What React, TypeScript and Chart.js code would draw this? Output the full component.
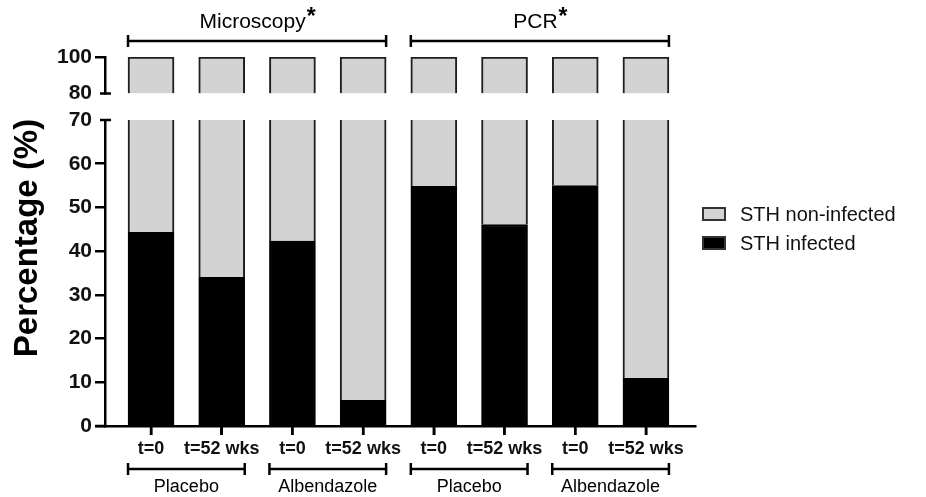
import React, { useEffect, useRef } from 'react';
import { Chart, registerables } from 'chart.js';

Chart.register(...registerables);

// ---------- data ----------
const categories = ['t=0', 't=52 wks', 't=0', 't=52 wks', 't=0', 't=52 wks', 't=0', 't=52 wks'];
const infected = [44.3, 34.0, 42.3, 5.9, 54.8, 46.1, 55.0, 10.9];
const nonInfected = [55.7, 66.0, 57.7, 94.1, 45.2, 53.9, 45.0, 89.1];
const seriesNames = ['STH non-infected', 'STH infected'];
const lowerTicks = [0, 10, 20, 30, 40, 50, 60, 70];
const upperTicks = [80, 100];
const treatmentGroups = [
  { label: 'Placebo', from: 0, to: 1 },
  { label: 'Albendazole', from: 2, to: 3 },
  { label: 'Placebo', from: 4, to: 5 },
  { label: 'Albendazole', from: 6, to: 7 },
];
const methodGroups = [
  { label: 'Microscopy', from: 0, to: 3 },
  { label: 'PCR', from: 4, to: 7 },
];
const yTitle = 'Percentage (%)';

const LOWER_MIN = 0;
const LOWER_MAX = 70;
const UPPER_MIN = 80;
const UPPER_MAX = 100;

// ---------- style ----------
const FONT = '"Liberation Sans", Arial, sans-serif';
const GRAY = '#d3d3d3';
const EDGE = '#1e1e1e';
const BAR_W = 46;
const AXIS_W = 2.5;

const brokenAxisPlugin = {
  id: 'brokenAxisDecor',
  afterDraw(chart: any) {
    const ctx = chart.ctx as CanvasRenderingContext2D;
    const x = chart.scales.x;
    const yLow = chart.scales.yLow;
    const yHigh = chart.scales.yHigh;
    const area = chart.chartArea;
    ctx.save();
    ctx.strokeStyle = '#000';
    ctx.fillStyle = '#000';
    ctx.lineWidth = AXIS_W;

    // axis-break caps
    const ax = area.left;
    [yLow.getPixelForValue(LOWER_MAX), yHigh.getPixelForValue(UPPER_MIN)].forEach((py) => {
      ctx.beginPath();
      ctx.moveTo(ax - 5, py);
      ctx.lineTo(ax + 6, py);
      ctx.stroke();
    });

    // x-axis extension to the left and category tick marks
    const axisY = yLow.getPixelForValue(LOWER_MIN);
    ctx.beginPath();
    ctx.moveTo(ax - 10, axisY);
    ctx.lineTo(ax, axisY);
    ctx.stroke();
    categories.forEach((_, i) => {
      const px = x.getPixelForValue(i);
      ctx.beginPath();
      ctx.moveTo(px, axisY);
      ctx.lineTo(px, axisY + 9);
      ctx.stroke();
    });

    const barLeft = (i: number) => x.getPixelForValue(i) - BAR_W / 2;
    const barRight = (i: number) => x.getPixelForValue(i) + BAR_W / 2;

    const bracket = (x1: number, x2: number, y: number, cap: number) => {
      ctx.beginPath();
      ctx.moveTo(x1, y);
      ctx.lineTo(x2, y);
      ctx.moveTo(x1, y - cap);
      ctx.lineTo(x1, y + cap);
      ctx.moveTo(x2, y - cap);
      ctx.lineTo(x2, y + cap);
      ctx.stroke();
    };

    // top method brackets
    methodGroups.forEach((g) => {
      const x1 = barLeft(g.from);
      const x2 = barRight(g.to);
      bracket(x1, x2, 41, 6);
      ctx.font = `21px ${FONT}`;
      const w1 = ctx.measureText(g.label).width;
      ctx.font = `bold 23px ${FONT}`;
      const w2 = ctx.measureText('*').width;
      const cx = (x1 + x2) / 2;
      const start = cx - (w1 + w2) / 2;
      ctx.textBaseline = 'alphabetic';
      ctx.textAlign = 'left';
      ctx.font = `21px ${FONT}`;
      ctx.fillText(g.label, start, 28);
      ctx.font = `bold 23px ${FONT}`;
      ctx.fillText('*', start + w1 + 1, 24);
    });

    // bottom treatment brackets
    treatmentGroups.forEach((g) => {
      const x1 = barLeft(g.from);
      const x2 = barRight(g.to);
      bracket(x1, x2, 469, 6);
      ctx.font = `18px ${FONT}`;
      ctx.textAlign = 'center';
      ctx.textBaseline = 'middle';
      ctx.fillText(g.label, (x1 + x2) / 2, 487);
    });

    // y title
    ctx.save();
    ctx.translate(28, 238);
    ctx.rotate(-Math.PI / 2);
    ctx.font = `bold 33px ${FONT}`;
    ctx.textAlign = 'center';
    ctx.textBaseline = 'middle';
    ctx.fillText(yTitle, 0, 0);
    ctx.restore();

    // legend
    const legendFills = [GRAY, '#000'];
    seriesNames.forEach((name, i) => {
      const cy = 214 + i * 29;
      ctx.fillStyle = legendFills[i];
      ctx.fillRect(703, cy - 6, 22, 12);
      ctx.lineWidth = 2;
      ctx.strokeStyle = '#333';
      ctx.strokeRect(703, cy - 6, 22, 12);
      ctx.fillStyle = '#111';
      ctx.font = `20px ${FONT}`;
      ctx.textAlign = 'left';
      ctx.textBaseline = 'middle';
      ctx.fillText(name, 740, cy + 1);
    });

    ctx.restore();
  },
};

export default function App() {
  const canvasRef = useRef<HTMLCanvasElement | null>(null);

  useEffect(() => {
    if (!canvasRef.current) return;

    const lowerInfected = categories.map((_, i) => ({
      x: i,
      y: [LOWER_MIN, Math.min(infected[i], LOWER_MAX)],
    }));
    const lowerNon = categories.map((_, i) => ({
      x: i,
      y: [Math.min(infected[i], LOWER_MAX), Math.min(infected[i] + nonInfected[i], LOWER_MAX)],
    }));
    const upperNon = categories.map((_, i) => ({
      x: i,
      y: [Math.max(infected[i], UPPER_MIN), Math.min(infected[i] + nonInfected[i], UPPER_MAX)],
    }));

    const common = {
      grouped: false,
      barThickness: BAR_W,
      borderSkipped: false as const,
      borderColor: EDGE,
    };

    const tickFont = { family: FONT, size: 21, weight: 'bold' as const };

    const yCommon = (ticks: number[], hideCap: number) => ({
      type: 'linear' as const,
      axis: 'y' as const,
      position: 'left' as const,
      stack: 'y',
      afterBuildTicks: (s: any) => {
        s.ticks = ticks.map((v) => ({ value: v }));
      },
      afterFit: (s: any) => {
        s.width = 105;
      },
      grid: {
        display: true,
        drawOnChartArea: false,
        drawTicks: true,
        tickLength: 10,
        lineWidth: AXIS_W,
        tickWidth: AXIS_W,
        tickColor: (c: any) => (c.tick && c.tick.value === hideCap ? 'rgba(0,0,0,0)' : '#000'),
      },
      border: { display: true, color: '#000', width: AXIS_W },
      ticks: { font: tickFont, color: '#111', padding: 3, autoSkip: false },
    });

    const chart = new Chart(canvasRef.current, {
      type: 'bar',
      data: {
        datasets: [
          {
            ...common,
            label: seriesNames[1],
            yAxisID: 'yLow',
            data: lowerInfected as any,
            backgroundColor: '#000',
            borderColor: '#000',
            borderWidth: 2,
          },
          {
            ...common,
            label: seriesNames[0],
            yAxisID: 'yLow',
            data: lowerNon as any,
            backgroundColor: GRAY,
            borderWidth: { left: 2, right: 2, top: 0, bottom: 0 },
          },
          {
            ...common,
            label: seriesNames[0],
            yAxisID: 'yHigh',
            data: upperNon as any,
            backgroundColor: GRAY,
            borderWidth: { left: 2, right: 2, top: 2, bottom: 0 },
          },
        ],
      },
      options: {
        animation: false,
        responsive: true,
        maintainAspectRatio: false,
        layout: { padding: { left: 0, right: 231, top: 57, bottom: 0 } },
        plugins: {
          legend: { display: false },
          tooltip: { enabled: false },
        },
        scales: {
          x: {
            type: 'linear',
            offset: false,
            min: -0.651,
            max: 7.694,
            afterBuildTicks: (s: any) => {
              s.ticks = categories.map((_, i) => ({ value: i }));
            },
            afterFit: (s: any) => {
              s.height = 71;
            },
            grid: {
              display: true,
              offset: false,
              drawOnChartArea: false,
              drawTicks: true,
              tickLength: 9,
              lineWidth: AXIS_W,
              tickWidth: AXIS_W,
              tickColor: '#000',
            },
            border: { display: true, color: '#000', width: AXIS_W },
            ticks: {
              callback: (_v: any, idx: number) => categories[idx] ?? '',
              font: { family: FONT, size: 18, weight: 'bold' },
              color: '#111',
              padding: 3,
              maxRotation: 0,
              autoSkip: false,
            },
          },
          yLow: {
            ...yCommon(lowerTicks, LOWER_MAX),
            min: LOWER_MIN,
            max: LOWER_MAX,
            stackWeight: 306,
          },
          yGap: {
            type: 'linear',
            axis: 'y',
            position: 'left',
            stack: 'y',
            display: false,
            min: 0,
            max: 1,
            stackWeight: 26.5,
          },
          yHigh: {
            ...yCommon(upperTicks, UPPER_MIN),
            min: UPPER_MIN,
            max: UPPER_MAX,
            stackWeight: 36.5,
          },
        } as any,
      },
      plugins: [brokenAxisPlugin],
    });

    return () => chart.destroy();
  }, []);

  return (
    <div style={{ position: 'fixed', left: 0, top: 0, width: 926, height: 497, background: '#fff' }}>
      <canvas ref={canvasRef} />
    </div>
  );
}
